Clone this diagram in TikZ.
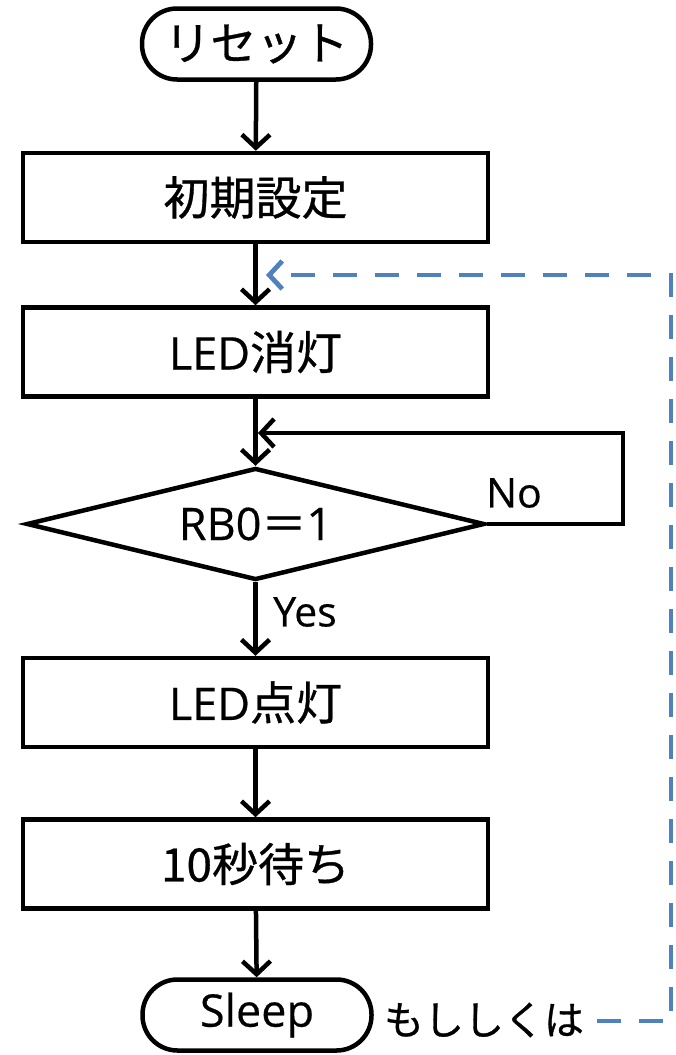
\documentclass[tikz,border=0pt]{standalone}
\usepackage{fontspec}
\setmainfont{Open Sans}[FakeBold=0.4]
\newfontfamily\cjk{Noto Sans CJK JP}[FakeBold=0.7]
\usetikzlibrary{arrows.meta,shapes.geometric,calc}
\definecolor{dblue}{HTML}{4F81BD}
\begin{document}
\begin{tikzpicture}[x=1pt,y=-1pt,
  every node/.style={font=\fontsize{45}{50}\selectfont},
  ln/.style={line width=4.5pt, draw=black},
  arr/.style={ln, -{Straight Barb[length=13pt,width=28pt,line width=4.5pt]}},
  dsh/.style={line width=4.8pt, draw=dblue, dash pattern=on 24pt off 18pt,
    -{Straight Barb[length=13pt,width=28pt,line width=4.8pt]}},
  box/.style={ln, rectangle, minimum width=465pt, minimum height=89pt, inner sep=0pt},
  term/.style={ln, rectangle, rounded corners=35pt, minimum width=229pt, minimum height=71pt, inner sep=0pt},
  dec/.style={ln, diamond, shape aspect=4, minimum width=458pt, minimum height=112pt, inner sep=0pt},
  lbl/.style={inner sep=2pt, font=\fontsize{41}{48}\selectfont}
]
\useasboundingbox (0,0) rectangle (675,1055);

\node[term] (reset) at (256.5,44) {{\cjk\fontsize{46}{50}\selectfont リセット}};
\node[box] (init) at (255.5,197.5) {{\cjk\fontsize{46}{50}\selectfont 初期設定}};
\node[box] (off) at (255.5,352) {LED{\cjk\fontsize{46}{50}\selectfont 消灯}};
\node[dec] (d) at (255.5,524) {RB0{\cjk ＝}1};
\node[box] (on) at (255.5,702.5) {LED{\cjk\fontsize{46}{50}\selectfont 点灯}};
\node[box] (wait) at (255.5,864) {{\cjk\fontsize{46}{50}\selectfont 10秒待ち}};
\node[term] (sleep) at (257,1015) {Sleep};

\node[lbl] (yes) at (305,612) {Yes};
\node[lbl] (no) at (514,493) {No};
\node[lbl] (alt) at (484,1020) {{\cjk\fontsize{40}{46}\selectfont もししくは}};

\coordinate (lpc) at (623,433);
\coordinate (lpin) at (258,433);
\coordinate (dstart) at (597,1021);
\coordinate (dcorner) at (671,275);
\coordinate (dtip) at (266,275);

\draw[arr] (reset) -- (init);
\draw[arr] (init) -- (off);
\draw[arr] (off) -- (d);
\draw[arr] (d) -- (on);
\draw[arr] (on) -- (wait);
\draw[arr] (wait) -- (sleep);
\draw[arr] (d.east) -| (lpc) -- (lpin);
\draw[dsh] (dstart) -| (dcorner) -- (dtip);
\end{tikzpicture}
\end{document}
